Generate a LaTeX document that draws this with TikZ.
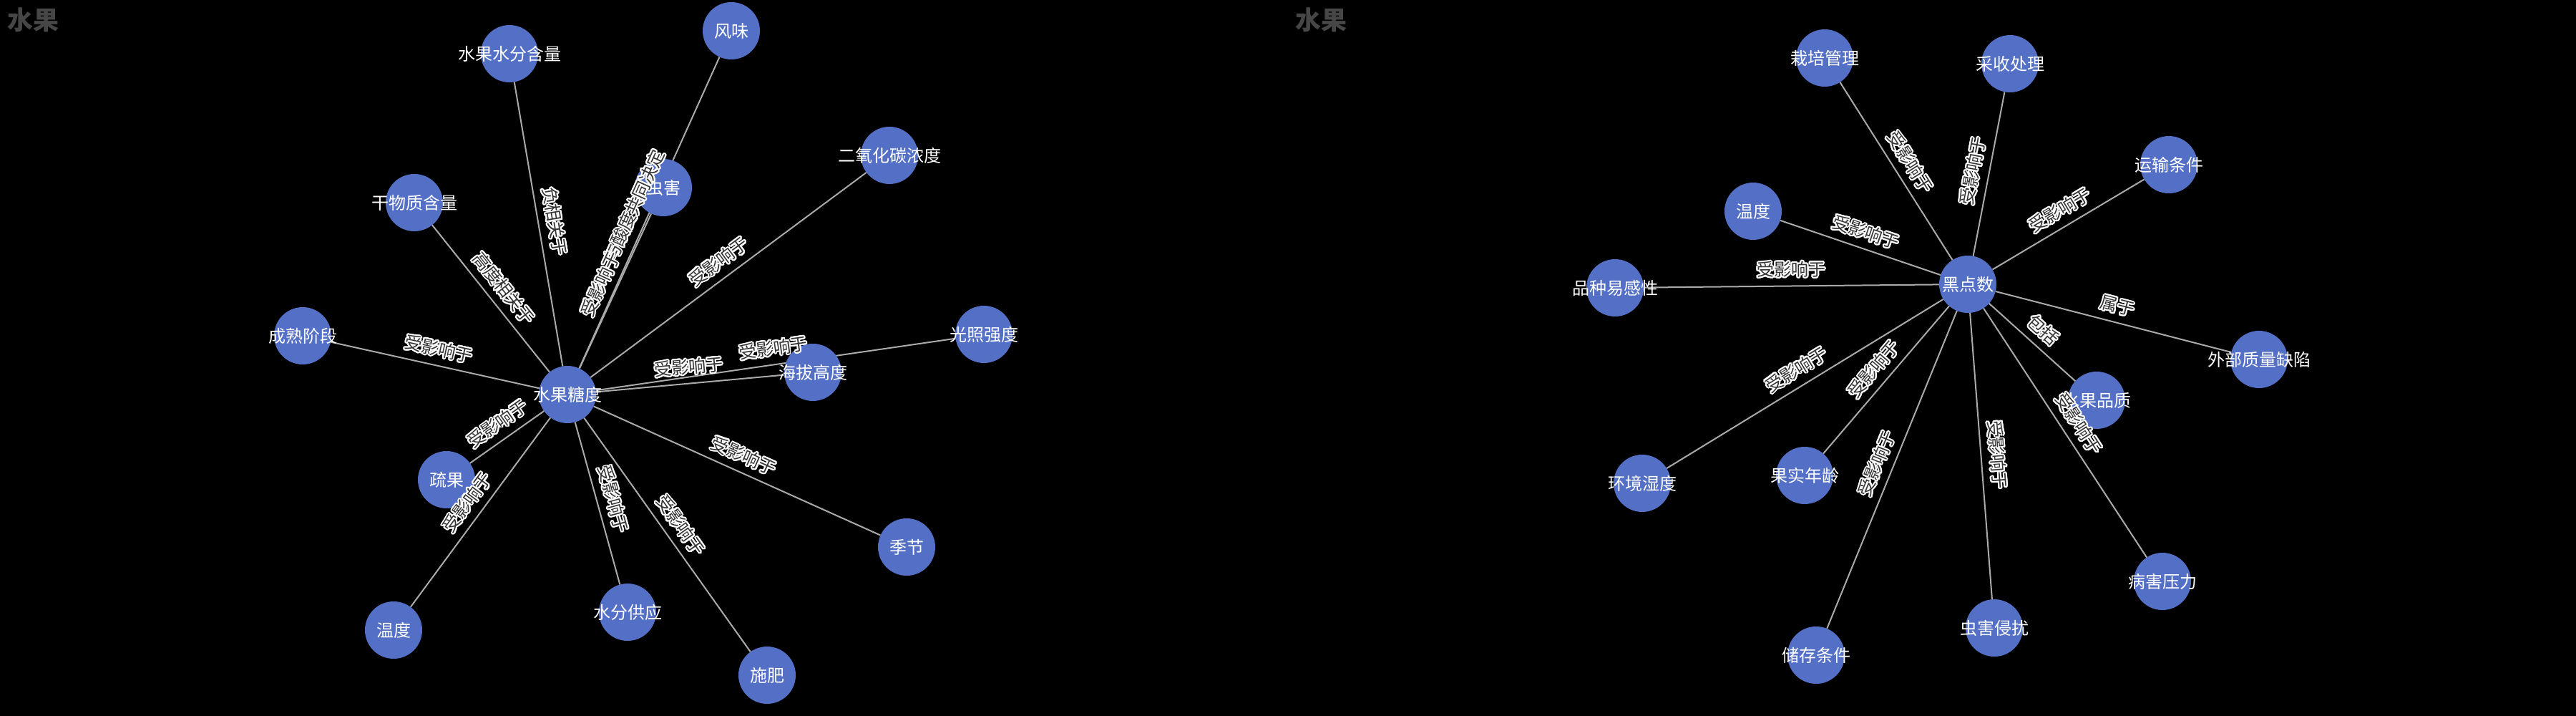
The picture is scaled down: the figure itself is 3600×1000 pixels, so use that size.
\documentclass[tikz,border=0pt]{standalone}
\usepackage{fontspec}
\setmainfont{Noto Sans CJK SC}
\usepackage{contour}
\contourlength{2pt}
\usetikzlibrary{backgrounds}
\definecolor{nodeblue}{HTML}{5470C6}
\definecolor{edgegray}{HTML}{AAAAAA}
\definecolor{labeldark}{HTML}{333333}
\definecolor{titlegray}{HTML}{464646}
\tikzset{
  entity/.style={circle, fill=nodeblue, minimum size=80pt, inner sep=0pt, outer sep=0pt},
  entitytext/.style={text=white, font=\fontsize{24pt}{24pt}\selectfont, inner sep=0pt},
  link/.style={draw=edgegray, line width=2pt},
  linklabel/.style={midway, sloped, above=10pt, inner sep=0pt, text=labeldark, font=\fontsize{24pt}{24pt}\selectfont},
  charttitle/.style={text=titlegray, font=\fontsize{36pt}{36pt}\selectfont\bfseries, inner sep=0pt}
}
\newcommand\entity[3]{\node[entity, label={[entitytext]center:#3}] (#1) at (#2) {};}
\newcommand\linkto[3]{%
  \begin{pgfonlayer}{background}\draw[link] (#1) -- (#2);\end{pgfonlayer}%
  \path (#1) -- (#2) node[linklabel] {\contour{white}{#3}};}
\begin{document}
\begin{tikzpicture}[x=1pt, y=-1pt]
\begin{pgfonlayer}{background}
\fill[black] (0,0) rectangle (3600,1000);
\end{pgfonlayer}
\useasboundingbox (0,0) rectangle (3600,1000);

\node[charttitle] (t1) at (46,28) {水果};
\node[charttitle] (t2) at (1846,28) {水果};

% left chart
\entity{sweet}{793,551}{水果糖度}
\entity{water}{712,75}{水果水分含量}
\entity{flavor}{1022,43}{风味}
\entity{dry}{579,283}{干物质含量}
\entity{pest}{927,262}{虫害}
\entity{co2}{1243,217}{二氧化碳浓度}
\entity{ripe}{423,469}{成熟阶段}
\entity{alt}{1136,520}{海拔高度}
\entity{light}{1375,467}{光照强度}
\entity{thin}{624,670}{疏果}
\entity{season}{1267,764}{季节}
\entity{temp}{550,880}{温度}
\entity{supply}{877,855}{水分供应}
\entity{fert}{1072,943}{施肥}

\linkto{sweet}{water}{负相关于}
\linkto{sweet}{flavor}{与酸度共同决定}
\linkto{sweet}{dry}{高度相关于}
\linkto{sweet}{pest}{受影响于}
\linkto{sweet}{co2}{受影响于}
\linkto{sweet}{ripe}{受影响于}
\linkto{sweet}{alt}{受影响于}
\linkto{sweet}{light}{受影响于}
\linkto{sweet}{thin}{受影响于}
\linkto{sweet}{season}{受影响于}
\linkto{sweet}{temp}{受影响于}
\linkto{sweet}{supply}{受影响于}
\linkto{sweet}{fert}{受影响于}

% right chart
\entity{spots}{2750,397}{黑点数}
\entity{cult}{2550,81}{栽培管理}
\entity{harv}{2809,89}{采收处理}
\entity{trans}{3031,230}{运输条件}
\entity{tempb}{2450,295}{温度}
\entity{vari}{2257,402}{品种易感性}
\entity{defect}{3157,502}{外部质量缺陷}
\entity{quality}{2930,559}{水果品质}
\entity{humid}{2295,675}{环境湿度}
\entity{age}{2522,664}{果实年龄}
\entity{store}{2538,915}{储存条件}
\entity{insect}{2787,877}{虫害侵扰}
\entity{disease}{3022,812}{病害压力}

\linkto{spots}{cult}{受影响于}
\linkto{spots}{harv}{受影响于}
\linkto{spots}{trans}{受影响于}
\linkto{spots}{tempb}{受影响于}
\linkto{spots}{vari}{受影响于}
\linkto{spots}{defect}{属于}
\linkto{spots}{quality}{包括}
\linkto{spots}{humid}{受影响于}
\linkto{spots}{age}{受影响于}
\linkto{spots}{store}{受影响于}
\linkto{spots}{insect}{受影响于}
\linkto{spots}{disease}{受影响于}
\end{tikzpicture}
\end{document}
